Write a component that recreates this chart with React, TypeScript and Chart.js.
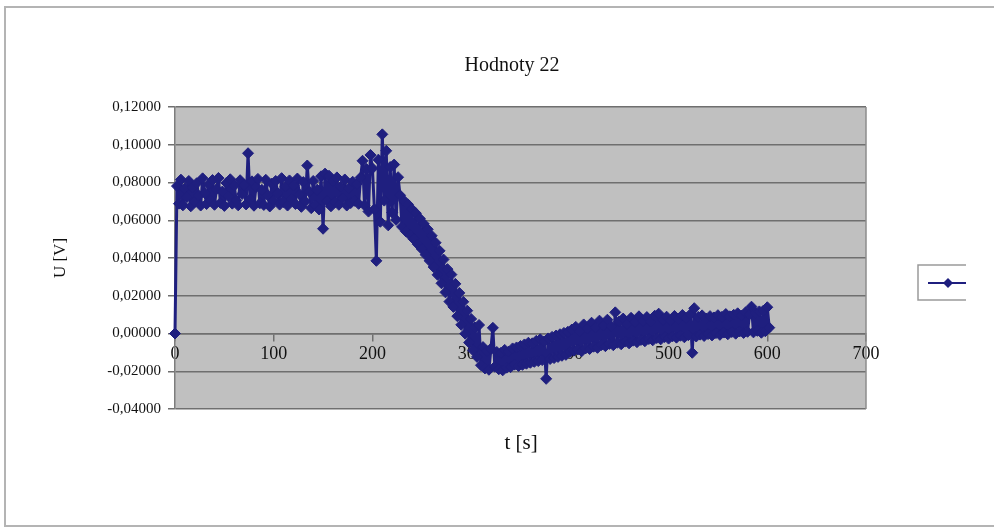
import React, { useEffect, useRef } from "react";
import { Chart, registerables } from "chart.js";

Chart.register(...registerables);

// Sampling period of the logged voltage [s]
const SAMPLE_PERIOD_S = 2;

// U [V], t = 0 … 198 s
const plateau = [
  0.0, 0.0781, 0.0688, 0.0815, 0.0679, 0.0768, 0.0722, 0.0808, 0.0674, 0.0774,
  0.0698, 0.0796, 0.0731, 0.0678, 0.0822, 0.0745, 0.0686, 0.0789, 0.0703, 0.0813,
  0.0682, 0.0764, 0.0824, 0.0692, 0.0752, 0.0676, 0.0798, 0.0727, 0.0817, 0.0688,
  0.0783, 0.0704, 0.0679, 0.0812, 0.0739, 0.0788, 0.0684, 0.0955, 0.0711, 0.0806,
  0.0677, 0.0776, 0.0819, 0.0690, 0.0761, 0.0681, 0.0814, 0.0733, 0.0673, 0.0794,
  0.0705, 0.0808, 0.0743, 0.0683, 0.0823, 0.0697, 0.0779, 0.0678, 0.0811, 0.0712,
  0.0784, 0.0686, 0.0821, 0.0738, 0.0671, 0.0802, 0.0699, 0.089, 0.0752, 0.0664,
  0.0808, 0.068, 0.0762, 0.0657, 0.0833, 0.0555, 0.0847, 0.0703, 0.0836, 0.0674,
  0.0806, 0.0696, 0.0827, 0.0682, 0.0778, 0.0716, 0.0816, 0.0678, 0.0769, 0.0691,
  0.0804, 0.0703, 0.0792, 0.0687, 0.0826, 0.0915, 0.0679, 0.0872, 0.0646, 0.0946,
];

// U [V], t = 200 … 226 s
const transition = [
  0.0875, 0.0658, 0.0385, 0.0921, 0.0592, 0.1055, 0.0704, 0.0968, 0.0573, 0.0882,
  0.0641, 0.0895, 0.0602, 0.0828,
];

// U [V], t = 228 … 306 s
const decay = [
  0.0732, 0.0565, 0.0703, 0.0541, 0.0684, 0.0522, 0.0658, 0.0499, 0.0637, 0.0473,
  0.0609, 0.0448, 0.0581, 0.0417, 0.0552, 0.0385, 0.0518, 0.0352, 0.0481, 0.0311,
  0.0438, 0.0266, 0.0392, 0.0218, 0.0341, 0.0169, 0.0312, 0.0141, 0.0263, 0.0092,
  0.0215, 0.0046, 0.0168, -0.0001, 0.0121, -0.0048, 0.0077, -0.0089, 0.0032, -0.0124,
];

// U [V], t = 308 … 398 s
const trough = [
  0.0045, -0.0168, -0.0072, -0.0185, -0.0094, -0.0192, -0.0081, 0.003, -0.0176, -0.0098,
  -0.0189, -0.0103, -0.0195, -0.0087, -0.0181, -0.0096, -0.0178, -0.0079, -0.0165, -0.0074,
  -0.0172, -0.0066, -0.0166, -0.0058, -0.016, -0.0049, -0.0155, -0.0052, -0.015, -0.0039,
  -0.0146, -0.0031, -0.0141, -0.0042, -0.024, -0.0026, -0.0135, -0.0018, -0.013, -0.0011,
  -0.0124, -0.0004, -0.0118, 0.0003, -0.0113, 0.0009,
];

// U [V], t = 400 … 602 s
const recovery = [
  -0.0098, 0.0021, -0.0091, 0.0035, -0.0085, 0.0012, -0.0094, 0.0048, -0.0079, 0.0026,
  -0.0082, 0.0057, -0.007, 0.0031, -0.0076, 0.0068, -0.0061, 0.0042, -0.0067, 0.0073,
  -0.0055, 0.0038, -0.0062, 0.0112, -0.0049, 0.0064, -0.0057, 0.0079, -0.0043, 0.0051,
  -0.0052, 0.0083, -0.0038, 0.0059, -0.0046, 0.0091, -0.0034, 0.0066, -0.0041, 0.0087,
  -0.0029, 0.0062, -0.0036, 0.0094, -0.0024, 0.0105, -0.0031, 0.0071, -0.0019, 0.0089,
  -0.0027, 0.0068, -0.0015, 0.0093, -0.0022, 0.0077, -0.0012, 0.0098, -0.002, 0.0082,
  -0.0009, 0.0101, -0.0102, 0.0134, -0.0016, 0.0088, -0.0006, 0.0096, -0.0013, 0.0079,
  -0.0003, 0.0092, -0.001, 0.0085, 0.0002, 0.0097, -0.0007, 0.0088, 0.0005, 0.0103,
  -0.0004, 0.0091, 0.0008, 0.0099, -0.0001, 0.0107, 0.0011, 0.0094, 0.0003, 0.0112,
  0.0009, 0.0102, 0.0142, 0.0006, 0.0109, 0.0014, 0.0117, 0.0004, 0.0121, 0.0012,
  0.0139, 0.0031,
];

const X_TICKS = [0, 100, 200, 300, 400, 500, 600, 700];
const Y_TICKS = [-0.04, -0.02, 0, 0.02, 0.04, 0.06, 0.08, 0.1, 0.12];

const CHART_TITLE = "Hodnoty 22";
const X_TITLE = "t [s]";
const Y_TITLE = "U [V]";

const NAVY = "#1f1f7f";
const PLOT_BG = "#c0c0c0";
const GRID = "#6f6f6f";
const SERIF = "'Liberation Serif', 'Times New Roman', serif";

const voltage = [...plateau, ...transition, ...decay, ...trough, ...recovery];
const points = voltage.map((u, i) => ({ x: i * SAMPLE_PERIOD_S, y: u }));

const formatVolts = (v: number) => v.toFixed(5).replace(".", ",");

// Grey plot area with a thin frame on the right
const plotAreaPlugin = {
  id: "plotArea",
  beforeDraw(chart: any) {
    const { ctx, chartArea: a } = chart;
    ctx.save();
    ctx.fillStyle = PLOT_BG;
    ctx.fillRect(a.left, a.top, a.right - a.left, a.bottom - a.top);
    ctx.restore();
  },
  afterDatasetsDraw(chart: any) {
    const { ctx, chartArea: a } = chart;
    ctx.save();
    ctx.strokeStyle = "#8c8c8c";
    ctx.lineWidth = 1.5;
    ctx.beginPath();
    ctx.moveTo(a.right, a.top);
    ctx.lineTo(a.right, a.bottom);
    ctx.stroke();
    ctx.restore();
  },
};

// Chart title, x-axis title and the small legend box on the right
const textPlugin = {
  id: "texts",
  afterDraw(chart: any) {
    const { ctx } = chart;
    ctx.save();
    ctx.fillStyle = "#111";
    ctx.textAlign = "center";
    ctx.textBaseline = "middle";
    ctx.font = `20px ${SERIF}`;
    ctx.fillText(CHART_TITLE, 512, 66);
    ctx.font = `21px ${SERIF}`;
    ctx.fillText(X_TITLE, 521, 443);

    // legend
    ctx.strokeStyle = "#9a9a9a";
    ctx.lineWidth = 1.5;
    ctx.beginPath();
    ctx.moveTo(966, 265);
    ctx.lineTo(918, 265);
    ctx.lineTo(918, 300);
    ctx.lineTo(966, 300);
    ctx.stroke();
    ctx.strokeStyle = NAVY;
    ctx.lineWidth = 2;
    ctx.beginPath();
    ctx.moveTo(928, 283);
    ctx.lineTo(966, 283);
    ctx.stroke();
    ctx.fillStyle = NAVY;
    ctx.beginPath();
    ctx.moveTo(948, 278);
    ctx.lineTo(953, 283);
    ctx.lineTo(948, 288);
    ctx.lineTo(943, 283);
    ctx.closePath();
    ctx.fill();
    ctx.restore();
  },
};

export default function App() {
  const canvasRef = useRef<HTMLCanvasElement | null>(null);

  useEffect(() => {
    const canvas = canvasRef.current;
    if (!canvas) return;
    const chart = new Chart(canvas, {
      type: "scatter",
      data: {
        datasets: [
          {
            label: "",
            data: points,
            showLine: true,
            borderColor: NAVY,
            backgroundColor: NAVY,
            borderWidth: 3,
            borderJoinStyle: "round",
            borderCapStyle: "round",
            pointStyle: "rectRot",
            pointRadius: 5.5,
            pointBorderWidth: 1,
            pointBorderColor: NAVY,
            pointBackgroundColor: NAVY,
            clip: false,
          } as any,
        ],
      },
      options: {
        animation: false,
        responsive: false,
        devicePixelRatio: 1,
        layout: { padding: { left: 0, top: 107, right: 128, bottom: 119 } },
        scales: {
          x: {
            type: "linear",
            min: 0,
            max: 700,
            position: { y: 0 } as any,
            afterBuildTicks: (s: any) => {
              s.ticks = X_TICKS.map((v) => ({ value: v }));
            },
            ticks: {
              color: "#111",
              font: { family: SERIF, size: 18 },
              padding: 3,
              maxRotation: 0,
              callback: (v: any) => String(v),
            },
            grid: { drawOnChartArea: false, tickLength: 7, color: GRID, lineWidth: 1.5 },
            border: { color: GRID, width: 1.5 },
          },
          y: {
            type: "linear",
            min: -0.04,
            max: 0.12,
            afterBuildTicks: (s: any) => {
              s.ticks = Y_TICKS.map((v) => ({ value: v }));
            },
            afterFit: (s: any) => {
              s.width = 175;
            },
            ticks: {
              color: "#111",
              font: { family: SERIF, size: 15 },
              padding: 7,
              callback: (v: any) => formatVolts(Number(v)),
            },
            grid: { color: GRID, lineWidth: 1.5, tickLength: 7 },
            border: { color: "#7d7d7d", width: 1.5 },
            title: {
              display: true,
              text: Y_TITLE,
              color: "#111",
              font: { family: SERIF, size: 17 },
              padding: { top: 50, bottom: 0 },
            },
          },
        },
        plugins: {
          legend: { display: false },
          title: { display: false },
          tooltip: { enabled: false },
        },
      },
      plugins: [plotAreaPlugin, textPlugin],
    });
    return () => chart.destroy();
  }, []);

  return (
    <div
      style={{
        position: "absolute",
        left: 0,
        top: 0,
        width: 994,
        height: 528,
        overflow: "hidden",
        background: "#fff",
      }}
    >
      <canvas ref={canvasRef} width={994} height={528} style={{ width: 994, height: 528, display: "block" }} />
      <div
        style={{
          position: "absolute",
          left: 4,
          top: 6,
          width: 1010,
          height: 517,
          border: "2px solid #b4b4b4",
          pointerEvents: "none",
        }}
      />
    </div>
  );
}
